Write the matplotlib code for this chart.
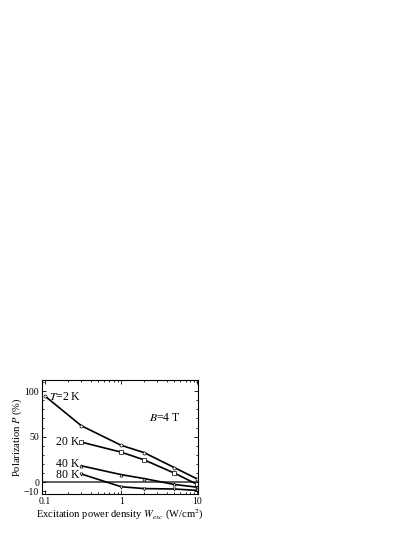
import numpy as np
import matplotlib.pyplot as plt
from matplotlib.ticker import FixedLocator, LogLocator, NullFormatter

plt.rcParams['font.family'] = ['Liberation Serif', 'DejaVu Serif']
plt.rcParams['mathtext.fontset'] = 'stix'

# power density (W/cm^2)
w_2k = [0.1, 0.3, 1, 2, 5, 10]
p_2k = [94.5, 62, 40.5, 32.5, 16, 3.5]

w_hi = [0.3, 1, 2, 5, 10]
p_20k = [44, 33, 24.5, 10, -2.5]
p_40k = [18, 8.3, 4, -2.5, -5.5]
p_80k = [9, -5, -7, -7.5, -9]

fig = plt.figure(figsize=(4.15, 5.37), dpi=100)
ax = fig.add_axes([0.101, 0.080, 0.376, 0.212])

mk = dict(ms=2.2, mfc='white', mew=0.5, color='black', lw=1.2)
ax.plot(w_2k, p_2k, marker='o', **mk)
ax.plot(w_hi, p_20k, marker='s', **mk)
ax.plot(w_hi, p_40k, marker='^', **mk)
ax.plot(w_hi, p_80k, marker='v', **mk)
ax.axhline(0, color='#444444', lw=1.2, zorder=0)

ax.set_xscale('log')
ax.set_xlim(0.091, 10.2)
ax.set_ylim(-13, 112)
ax.set_xticks([0.1, 1, 10])
ax.set_xticklabels(['0.1', '1', '10'])
ax.xaxis.set_minor_locator(LogLocator(base=10, subs=np.arange(2, 10)))
ax.xaxis.set_minor_formatter(NullFormatter())
ax.set_yticks([-10, 0, 50, 100])
ax.yaxis.set_minor_locator(FixedLocator(np.arange(-10, 111, 10)))
ax.tick_params(which='both', direction='in', top=True, right=True,
               labelsize=7, width=0.6, pad=2)
ax.tick_params(which='major', length=3)
ax.tick_params(which='minor', length=1.6)
for s in ax.spines.values():
    s.set_linewidth(0.8)

fs = 8.5
ax.text(0.112, 94, r'$T$=2 K', fontsize=fs, va='center', ha='left')
ax.text(0.285, 44, '20 K', fontsize=fs, va='center', ha='right')
ax.text(0.285, 20.5, '40 K', fontsize=fs, va='center', ha='right')
ax.text(0.285, 7.5, '80 K', fontsize=fs, va='center', ha='right')
ax.text(2.3, 71, r'$B$=4 T', fontsize=fs, va='center', ha='left')

ax.set_xlabel(r'Excitation power density $W_{exc}$ (W/cm$^2$)', fontsize=7.6, labelpad=1)
ax.set_ylabel(r'Polarization $P$ (%)', fontsize=7.6, labelpad=0)

fig.savefig('out.png', dpi=100)
